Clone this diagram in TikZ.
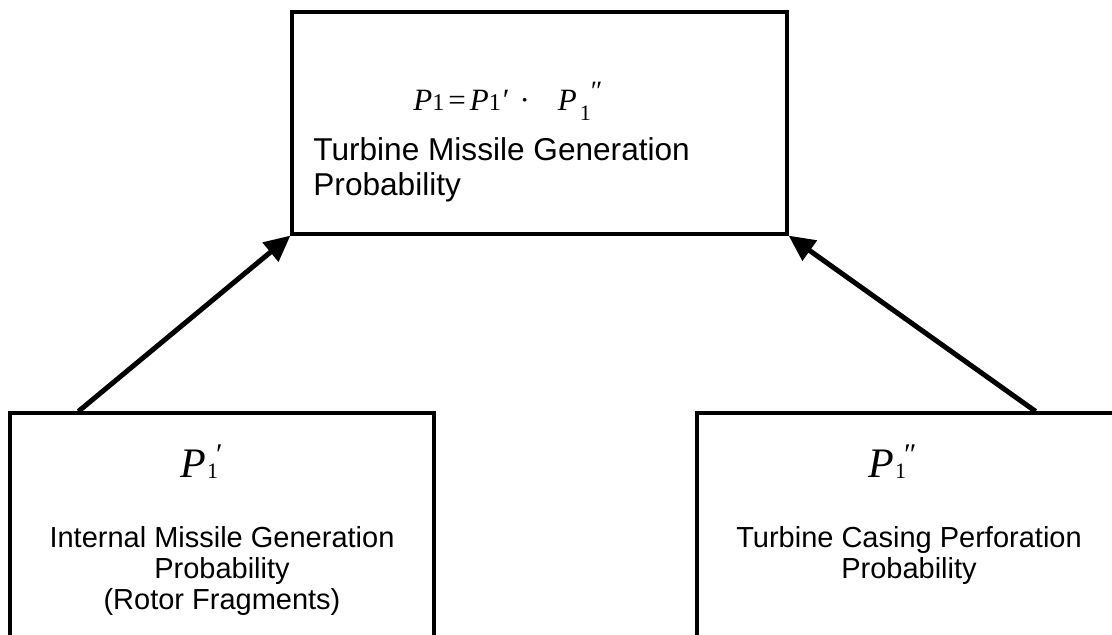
\documentclass[tikz,border=0pt]{standalone}
\usepackage{fontspec}
\setmainfont{Liberation Sans}
\newfontfamily\tms{Liberation Serif}
\usepackage{tikz}
\usetikzlibrary{arrows.meta,positioning}
\tikzset{
    %Define standard arrow tip
    >={Triangle[length=13pt,width=12pt]},
    %Define style for boxes
    probbox/.style={
           rectangle,
           draw=black, line width=1.6pt,
           inner sep=0pt},
    desc/.style={
           align=center,
           inner sep=0pt,
           font=\fontsize{14.5}{15.5}\selectfont},
    sym/.style={
           inner sep=0pt,
           font=\tms\fontsize{21}{22}\selectfont},
    % Define arrow style
    pil/.style={
           ->,
           line width=2.5pt}
}
\newcommand{\pone}[1]{\textit{P}\kern0.5pt\raisebox{-1pt}{\fontsize{11}{12}\selectfont 1}\kern-1pt\raisebox{6pt}{\fontsize{15}{16}\selectfont #1}}

\begin{document}
\begin{tikzpicture}[x=0.5pt,y=-0.5pt]
\useasboundingbox (0,0) rectangle (1112,635);
\clip (0,0) rectangle (1112,635);
\node[probbox, minimum width=247.5pt, minimum height=111pt] (gen) at (539.5,123) {};
\node[probbox, minimum width=212pt, minimum height=135pt] (internal) at (222,548) {};
\node[probbox, minimum width=212pt, minimum height=135pt] (casing) at (909,548) {};
\node[anchor=base west, inner sep=0pt, font=\tms\fontsize{15.5}{16}\selectfont] (eq) at (413,111)
  {\textit{P}{\fontsize{12}{13}\selectfont 1}\kern2pt=\kern2pt\textit{P}{\fontsize{12}{13}\selectfont 1}\kern1pt′\hspace{5pt}·\hspace{14pt}\textit{P}\kern1.5pt\raisebox{-5pt}{\fontsize{11}{12}\selectfont 1}\raisebox{5pt}{\fontsize{14}{15}\selectfont ″}};
\node[desc, anchor=north west, align=left, font=\fontsize{15.8}{17.5}\selectfont] (gentext) at (313,137) {Turbine Missile Generation\\Probability};
\node[sym, anchor=base west] (p1a) at (180,477) {\pone{′}};
\node[desc, anchor=north] (inttext) at (222,526) {Internal Missile Generation\\Probability\\(Rotor Fragments)};
\node[sym, anchor=base west] (p1b) at (868,477) {\pone{″}};
\node[desc, anchor=north] (castext) at (909,526) {Turbine Casing Perforation\\Probability};
\coordinate (intstart) at ([xshift=35pt]internal.north west);
\coordinate (casstart) at ([xshift=-43.5pt]casing.north east);
\draw[pil] (intstart) -- (gen.south west);
\draw[pil] (casstart) -- (gen.south east);
\end{tikzpicture}
\end{document}
